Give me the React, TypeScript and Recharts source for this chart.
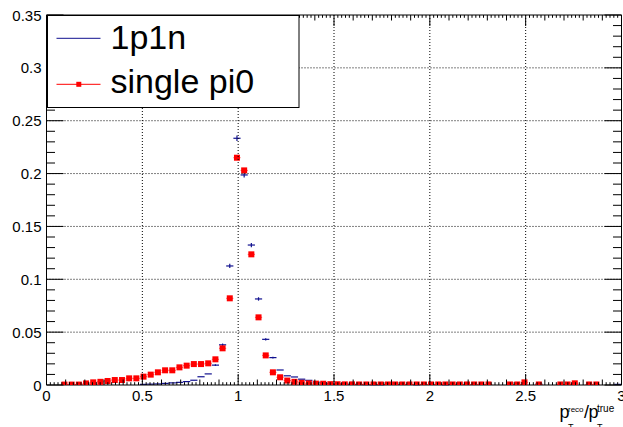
import React from 'react';
import { ComposedChart, Scatter, XAxis, YAxis, ErrorBar, Legend } from 'recharts';

// ---- histogram binning (80 bins from 0 to 3) ----
const BIN_LOW = 0;
const BIN_WIDTH = 0.0375;

// ---- tick labels ----
const xTickLabels = [0, 0.5, 1, 1.5, 2, 2.5, 3];
const yTickLabels = [0, 0.05, 0.1, 0.15, 0.2, 0.25, 0.3, 0.35];

// ---- series values per bin (null = empty bin, not drawn) ----
const singlePi0: (number | null)[] = [
  null, null, 0.0004, 0.0004, 0.0004, 0.0015, 0.0025, 0.003, 0.0038, 0.0047,
  0.0047, 0.0063, 0.0063, 0.0079, 0.0098, 0.012, 0.0139, 0.0139, 0.0167, 0.0183,
  0.0198, 0.0198, 0.0205, 0.0243, 0.0347, 0.082, 0.215, 0.203, 0.1236, 0.064,
  0.028, 0.012, 0.0073, 0.0042, 0.003, 0.002, 0.0015, 0.0013, 0.0012, 0.0008,
  0.0007, 0.0006, 0.0006, 0.0005, 0.0005, 0.0005, 0.0005, 0.0005, 0.0005, 0.0005,
  0.0005, 0.0005, 0.0005, 0.0005, 0.0005, 0.0005, 0.0005, 0.0005, 0.0005, 0.0005,
  0.0005, 0.0005, null, null, 0.0005, 0.0005, 0.0025, null, 0.0005, null,
  null, 0.0005, 0.0005, 0.0016, null, 0.0005, 0.0005, null, null, null,
];

const p1n: (number | null)[] = [
  null, null, null, null, null, null, null, null, null, null,
  null, null, null, 0.0006, 0.0008, 0.001, 0.0015, 0.002, 0.0025, 0.0032,
  0.0045, 0.0078, 0.0105, 0.0188, 0.038, 0.1126, 0.2334, 0.1987, 0.1324, 0.0814,
  0.0432, 0.0259, 0.0142, 0.0087, 0.0076, 0.0055, 0.0044, 0.0028, 0.002, 0.0015,
  0.001, 0.0008, 0.0006, 0.0005, 0.0004, 0.0003, 0.0003, null, null, null,
  null, 0.0003, null, null, null, 0.0003, null, null, null, null,
  null, null, null, null, null, null, null, null, 0.0008, null,
  null, null, null, null, null, null, null, null, null, 0.0006,
];

// vertical error bars of 1p1n (bins listed, others negligible)
const p1nErrBins = [23, 24, 25, 26, 27, 28, 29, 30, 31];
const p1nErrVals = [0.0008, 0.0012, 0.002, 0.0026, 0.0024, 0.002, 0.0016, 0.0011, 0.0009];

const toPoints = (vals: (number | null)[], errBins: number[] = [], errVals: number[] = []) =>
  vals
    .map((v, i) => {
      if (v === null) return null;
      const k = errBins.indexOf(i);
      return {
        x: BIN_LOW + (i + 0.5) * BIN_WIDTH,
        y: v,
        ex: BIN_WIDTH / 2,
        ey: k >= 0 ? errVals[k] : 0,
      };
    })
    .filter((p) => p !== null);

const redData = toPoints(singlePi0);
const blueData = toPoints(p1n, p1nErrBins, p1nErrVals);

// ---- tick arrays (positions on the axes' own scales) ----
const xTicksAll: number[] = [];
for (let k = 0; k <= 150; k++) xTicksAll.push(Math.round(k * 20) / 1000);
const yTicksAll: number[] = [];
for (let k = 0; k <= 35; k++) yTicksAll.push(Math.round(k * 10) / 1000);

const FONT = "'Liberation Sans', Arial, Helvetica, sans-serif";
const PLOT_W = 575;
const PLOT_H = 370;
const BLUE = '#10108f';
const RED = '#ff0000';

const isMult = (v: number, step: number) => Math.abs(v / step - Math.round(v / step)) < 1e-6;

const BottomTick = (props: any) => {
  const { x, y, payload } = props;
  const v = payload.value as number;
  const major = isMult(v, 0.5);
  const sec = isMult(v, 0.1);
  const len = major ? 11 : sec ? 5.5 : 2.8;
  return (
    <g>
      {major && v > 0 && v < 3 && (
        <line x1={x} x2={x} y1={y} y2={y - PLOT_H} stroke="#000" strokeDasharray="1 2" strokeWidth={1} />
      )}
      <line x1={x} x2={x} y1={y} y2={y - len} stroke="#000" strokeWidth={1} />
      {major && xTickLabels.some((t) => Math.abs(t - v) < 1e-6) && (
        <text x={x} y={y + 15.5} textAnchor="middle" fontSize={15} fontFamily={FONT} fill="#000">
          {String(v)}
        </text>
      )}
    </g>
  );
};

const TopTick = (props: any) => {
  const { x, y, payload } = props;
  const v = payload.value as number;
  const major = isMult(v, 0.5);
  const sec = isMult(v, 0.1);
  const len = major ? 11 : sec ? 5.5 : 2.8;
  return <line x1={x} x2={x} y1={y} y2={y + len} stroke="#000" strokeWidth={1} />;
};

const LeftTick = (props: any) => {
  const { x, y, payload } = props;
  const v = payload.value as number;
  const major = isMult(v, 0.05);
  const len = major ? 17 : 8.5;
  return (
    <g>
      {major && v > 0 && v < 0.35 && (
        <line x1={x} x2={x + PLOT_W} y1={y} y2={y} stroke="#000" strokeDasharray="1 2" strokeWidth={1} />
      )}
      <line x1={x} x2={x + len} y1={y} y2={y} stroke="#000" strokeWidth={1} />
      {major && yTickLabels.some((t) => Math.abs(t - v) < 1e-6) && (
        <text x={x - 5} y={y + 5.5} textAnchor="end" fontSize={15} fontFamily={FONT} fill="#000">
          {String(v)}
        </text>
      )}
    </g>
  );
};

const RightTick = (props: any) => {
  const { x, y, payload } = props;
  const v = payload.value as number;
  const major = isMult(v, 0.05);
  const len = major ? 17 : 8.5;
  return <line x1={x} x2={x - len} y1={y} y2={y} stroke="#000" strokeWidth={1} />;
};

const XTitle = (props: any) => {
  const vb = props.viewBox || { x: 46.5, y: 385, width: PLOT_W, height: 30 };
  const r = vb.x + vb.width;
  const b = vb.y + 33;
  return (
    <g fontFamily={FONT} fill="#000">
      <text x={r - 62} y={b} fontSize={18}>p</text>
      <text x={r - 53.5} y={b - 6} fontSize={8}>reco</text>
      <text x={r - 53.5} y={b + 12} fontSize={9}>T</text>
      <text x={r - 37.5} y={b} fontSize={18}>/</text>
      <text x={r - 33} y={b} fontSize={18}>p</text>
      <text x={r - 24.5} y={b - 6} fontSize={10}>true</text>
      <text x={r - 24.5} y={b + 12} fontSize={9}>T</text>
    </g>
  );
};

const LegendBox = () => (
  <svg width={253} height={93} style={{ display: 'block' }}>
    <rect x={0.5} y={0.5} width={251.5} height={92} fill="#fff" stroke="#000" strokeWidth={1} />
    <line x1={9.5} x2={53.5} y1={23.3} y2={23.3} stroke={BLUE} strokeWidth={1} />
    <text x={63.5} y={33.5} fontSize={34} fontFamily={FONT} fill="#000">1p1n</text>
    <line x1={9.5} x2={53.5} y1={69.3} y2={69.3} stroke={RED} strokeWidth={1} />
    <rect x={29.3} y={66.8} width={5} height={5} fill={RED} />
    <text x={63.5} y={77.5} fontSize={34} fontFamily={FONT} fill="#000">single pi0</text>
  </svg>
);

const RedSquare = (props: any) => {
  const { cx, cy } = props;
  if (cx == null || cy == null) return <g />;
  return <rect x={cx - 3} y={cy - 3} width={6} height={6} fill={RED} />;
};

const Empty = () => <g />;

export default function App() {
  return (
    <div style={{ position: 'absolute', left: 0, top: 0, width: 623, height: 427, background: '#fff' }}>
      <ComposedChart width={623} height={427} margin={{ top: 0, right: 0, bottom: 12, left: 0 }}>
        <XAxis
          xAxisId="b"
          type="number"
          dataKey="x"
          domain={[0, 3]}
          ticks={xTicksAll}
          interval={0}
          tickSize={0}
          tickMargin={0}
          height={30}
          allowDataOverflow
          axisLine={{ stroke: '#000' }}
          tickLine={false}
          tick={(p: any) => <BottomTick {...p} />}
          label={<XTitle />}
        />
        <XAxis
          xAxisId="t"
          orientation="top"
          type="number"
          dataKey="x"
          domain={[0, 3]}
          ticks={xTicksAll}
          interval={0}
          tickSize={0}
          tickMargin={0}
          height={15}
          allowDataOverflow
          axisLine={{ stroke: '#000' }}
          tickLine={false}
          tick={(p: any) => <TopTick {...p} />}
        />
        <YAxis
          yAxisId="l"
          type="number"
          dataKey="y"
          domain={[0, 0.35]}
          ticks={yTicksAll}
          interval={0}
          tickSize={0}
          tickMargin={0}
          width={46.5}
          allowDataOverflow
          axisLine={{ stroke: '#000' }}
          tickLine={false}
          tick={(p: any) => <LeftTick {...p} />}
        />
        <YAxis
          yAxisId="r"
          orientation="right"
          type="number"
          dataKey="y"
          domain={[0, 0.35]}
          ticks={yTicksAll}
          interval={0}
          tickSize={0}
          tickMargin={0}
          width={1.5}
          allowDataOverflow
          axisLine={{ stroke: '#000' }}
          tickLine={false}
          tick={(p: any) => <RightTick {...p} />}
        />
        <Scatter
          name="1p1n"
          data={blueData}
          xAxisId="t"
          yAxisId="r"
          dataKey="y"
          shape={<Empty />}
          isAnimationActive={false}
        >
          <ErrorBar dataKey="ex" direction="x" width={0} stroke={BLUE} strokeWidth={1.2} isAnimationActive={false} />
          <ErrorBar dataKey="ey" direction="y" width={0} stroke={BLUE} strokeWidth={1.2} isAnimationActive={false} />
        </Scatter>
        <Scatter
          name="single pi0"
          data={redData}
          xAxisId="b"
          yAxisId="l"
          dataKey="y"
          shape={<RedSquare />}
          isAnimationActive={false}
        >
          <ErrorBar dataKey="ex" direction="x" width={0} stroke="#ff6060" strokeWidth={1} isAnimationActive={false} />
        </Scatter>
        <Legend
          layout="horizontal"
          verticalAlign="middle"
          align="center"
          wrapperStyle={{ position: 'absolute', left: 46.5, top: 15, width: 253, height: 93, margin: 0, padding: 0 }}
          content={() => <LegendBox />}
        />
      </ComposedChart>
    </div>
  );
}
